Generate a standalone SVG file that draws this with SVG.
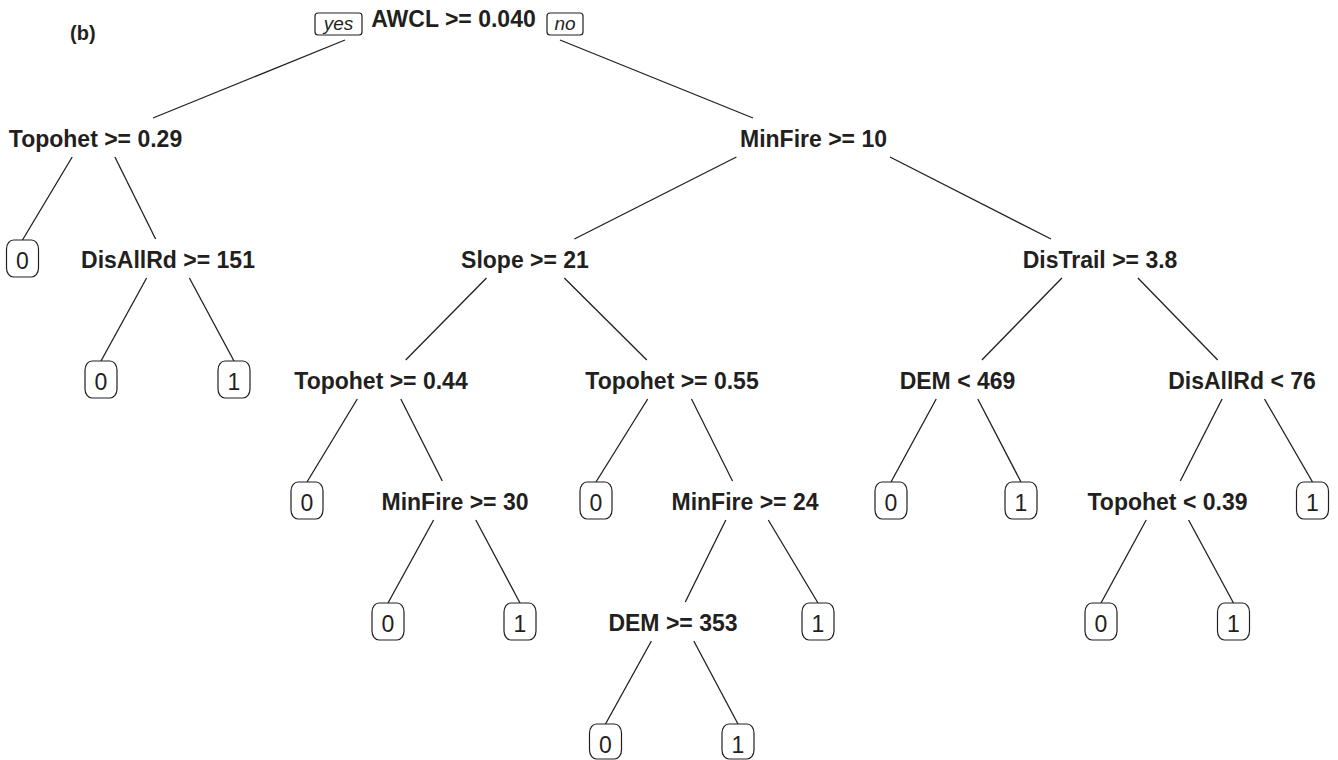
<svg xmlns="http://www.w3.org/2000/svg" width="1338" height="760" viewBox="0 0 1338 760">
<style>
.s{font-family:"Liberation Sans",Arial,sans-serif;font-weight:bold;font-size:23px;fill:#231f20;text-anchor:middle}
.l{font-family:"Liberation Sans",Arial,sans-serif;font-size:23px;fill:#231f20;text-anchor:middle}
.yn{font-family:"Liberation Sans",Arial,sans-serif;font-style:italic;font-size:19px;fill:#231f20;text-anchor:middle}
.b{fill:#fff;stroke:#231f20;stroke-width:1.2}
.e line{stroke:#231f20;stroke-width:1.3}
</style>
<rect width="1338" height="760" fill="#fff"/>
<text x="70" y="40" style="font-family:'Liberation Sans',Arial,sans-serif;font-weight:bold;font-size:20px;fill:#231f20">(b)</text>
<g class="e" id="edges">
<line x1="345" y1="40" x2="153" y2="118"/>
<line x1="560" y1="40" x2="753" y2="118"/>
<line x1="72.2" y1="157" x2="22.5" y2="240"/>
<line x1="114.9" y1="157" x2="155.6" y2="239"/>
<line x1="736.4" y1="157" x2="574.4" y2="239"/>
<line x1="890" y1="157" x2="1051" y2="239"/>
<line x1="146.6" y1="278" x2="101" y2="361"/>
<line x1="189.4" y1="278" x2="234" y2="361"/>
<line x1="486.5" y1="278" x2="405.7" y2="360"/>
<line x1="564.3" y1="278" x2="646.8" y2="360"/>
<line x1="1061.9" y1="278" x2="981.9" y2="360"/>
<line x1="1137.9" y1="278" x2="1217.7" y2="360"/>
<line x1="357.3" y1="399" x2="307" y2="482"/>
<line x1="400.8" y1="399" x2="442.3" y2="481"/>
<line x1="647.7" y1="399" x2="596" y2="482"/>
<line x1="691.5" y1="399" x2="732.5" y2="481"/>
<line x1="936.2" y1="399" x2="891" y2="482"/>
<line x1="977.8" y1="399" x2="1021" y2="482"/>
<line x1="1222.1" y1="399" x2="1180.3" y2="481"/>
<line x1="1264.5" y1="399" x2="1312.5" y2="482"/>
<line x1="433.6" y1="520" x2="388" y2="603"/>
<line x1="475.8" y1="520" x2="520" y2="603"/>
<line x1="725.8" y1="520" x2="685.3" y2="602"/>
<line x1="768.3" y1="520" x2="818" y2="603"/>
<line x1="1146.2" y1="520" x2="1101" y2="603"/>
<line x1="1188.6" y1="520" x2="1233.5" y2="603"/>
<line x1="651.4" y1="641" x2="605.5" y2="724"/>
<line x1="693.8" y1="641" x2="738" y2="724"/>
</g>
<g id="root">
<rect class="b" x="315" y="13" width="47" height="22" rx="3"/>
<text class="yn" x="338.5" y="30">yes</text>
<text class="s" x="453.5" y="27">AWCL &gt;= 0.040</text>
<rect class="b" x="547" y="13" width="36" height="22" rx="3"/>
<text class="yn" x="565" y="30">no</text>
</g>
<g id="n2"><text class="s" x="95.5" y="147">Topohet &gt;= 0.29</text></g>
<g id="n3"><text class="s" x="813.5" y="147">MinFire &gt;= 10</text></g>
<g id="n4"><rect class="b" x="6.5" y="240" width="32" height="37" rx="7" ry="9"/><text class="l" x="22.5" y="269">0</text></g>
<g id="n5"><text class="s" x="168" y="268">DisAllRd &gt;= 151</text></g>
<g id="n6"><text class="s" x="525" y="268">Slope &gt;= 21</text></g>
<g id="n7"><text class="s" x="1100" y="268">DisTrail &gt;= 3.8</text></g>
<g id="n10"><rect class="b" x="85" y="361" width="32" height="37" rx="7" ry="9"/><text class="l" x="101" y="390">0</text></g>
<g id="n11"><rect class="b" x="218" y="361" width="32" height="37" rx="7" ry="9"/><text class="l" x="234" y="390">1</text></g>
<g id="n12"><text class="s" x="381" y="389">Topohet &gt;= 0.44</text></g>
<g id="n13"><text class="s" x="672" y="389">Topohet &gt;= 0.55</text></g>
<g id="n14"><text class="s" x="957.5" y="389">DEM &lt; 469</text></g>
<g id="n15"><text class="s" x="1242" y="389">DisAllRd &lt; 76</text></g>
<g id="n24"><rect class="b" x="291" y="482" width="32" height="37" rx="7" ry="9"/><text class="l" x="307" y="511">0</text></g>
<g id="n25"><text class="s" x="455" y="510">MinFire &gt;= 30</text></g>
<g id="n26"><rect class="b" x="580" y="482" width="32" height="37" rx="7" ry="9"/><text class="l" x="596" y="511">0</text></g>
<g id="n27"><text class="s" x="745" y="510">MinFire &gt;= 24</text></g>
<g id="n28"><rect class="b" x="875" y="482" width="32" height="37" rx="7" ry="9"/><text class="l" x="891" y="511">0</text></g>
<g id="n29"><rect class="b" x="1005" y="482" width="32" height="37" rx="7" ry="9"/><text class="l" x="1021" y="511">1</text></g>
<g id="n30"><text class="s" x="1167.5" y="510">Topohet &lt; 0.39</text></g>
<g id="n31"><rect class="b" x="1296.5" y="482" width="32" height="37" rx="7" ry="9"/><text class="l" x="1312.5" y="511">1</text></g>
<g id="n50"><rect class="b" x="372" y="603" width="32" height="37" rx="7" ry="9"/><text class="l" x="388" y="632">0</text></g>
<g id="n51"><rect class="b" x="504" y="603" width="32" height="37" rx="7" ry="9"/><text class="l" x="520" y="632">1</text></g>
<g id="n54"><text class="s" x="673" y="631">DEM &gt;= 353</text></g>
<g id="n55"><rect class="b" x="802" y="603" width="32" height="37" rx="7" ry="9"/><text class="l" x="818" y="632">1</text></g>
<g id="n60"><rect class="b" x="1085" y="603" width="32" height="37" rx="7" ry="9"/><text class="l" x="1101" y="632">0</text></g>
<g id="n61"><rect class="b" x="1217.5" y="603" width="32" height="37" rx="7" ry="9"/><text class="l" x="1233.5" y="632">1</text></g>
<g id="n108"><rect class="b" x="589.5" y="724" width="32" height="35" rx="7" ry="9"/><text class="l" x="605.5" y="753">0</text></g>
<g id="n109"><rect class="b" x="722" y="724" width="32" height="35" rx="7" ry="9"/><text class="l" x="738" y="753">1</text></g>
</svg>
